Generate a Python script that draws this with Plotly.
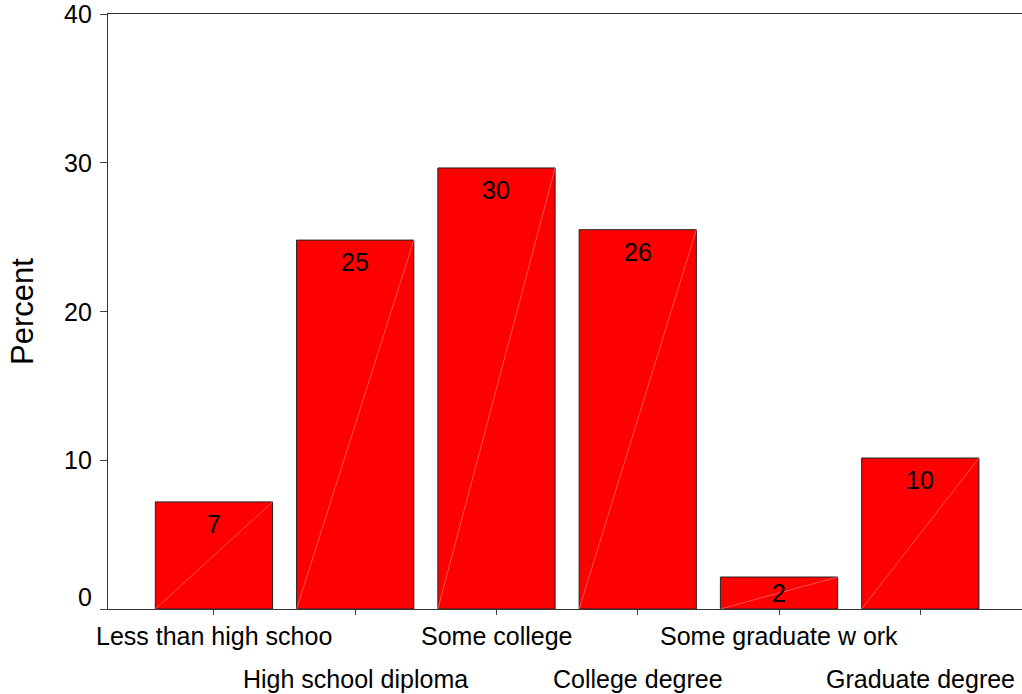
import plotly.graph_objects as go

categories = ["Less than high schoo", "High school diploma", "Some college",
              "College degree", "Some graduate w ork", "Graduate degree"]
percent = [7.2, 24.8, 29.65, 25.5, 2.15, 10.15]
value_labels = ["7", "25", "30", "26", "2", "10"]
y_ticks = [0, 10, 20, 30, 40]
y_tick_labels = ["0", "10", "20", "30", "40"]

W, H = 1022, 694
L, R, T, B = 108, 0, 14, 85
FONT = "Liberation Sans, Arial, sans-serif"
BAR_W = 0.83
px_per_unit = (H - T - B) / 40.0

xs = list(range(len(categories)))

fig = go.Figure()
fig.add_trace(go.Bar(
    x=xs, y=percent, width=BAR_W,
    marker=dict(color="#ff0000", line=dict(color="#222222", width=1)),
    hoverinfo="skip",
))

shapes = []
annotations = []
for i, (v, lab) in enumerate(zip(percent, value_labels)):
    # faint diagonal line across each bar (from bottom-left to top-right)
    shapes.append(dict(type="line", xref="x", yref="y",
                       x0=i - BAR_W / 2, y0=0, x1=i + BAR_W / 2, y1=v,
                       line=dict(color="rgba(255,170,170,0.8)", width=0.6)))
    hpx = v * px_per_unit
    shift = min(22, hpx - 16)
    annotations.append(dict(x=i, y=v, xref="x", yref="y", text=lab,
                            showarrow=False, yanchor="middle", yshift=-shift,
                            font=dict(family=FONT, size=25, color="#000000")))

for i, c in enumerate(categories):
    annotations.append(dict(x=i, y=0, xref="x", yref="paper", text=c,
                            showarrow=False, yanchor="middle",
                            yshift=-27 if i % 2 == 0 else -70,
                            font=dict(family=FONT, size=25, color="#000000")))

for v, lab in zip(y_ticks, y_tick_labels):
    annotations.append(dict(x=0, y=v, xref="paper", yref="y", text=lab,
                            showarrow=False, xanchor="right", yanchor="middle",
                            xshift=-14, yshift=12 if v == 0 else 0,
                            font=dict(family=FONT, size=25, color="#000000")))

fig.update_layout(
    width=W, height=H,
    margin=dict(l=L, r=R, t=T, b=B, pad=0),
    paper_bgcolor="white", plot_bgcolor="white",
    showlegend=False,
    font=dict(family=FONT, size=25, color="#000000"),
    shapes=shapes,
    annotations=annotations,
    xaxis=dict(range=[-0.75, 5.72], tickvals=xs, showticklabels=False,
               ticks="outside", ticklen=5, tickcolor="#444444",
               showline=True, linecolor="#333333", linewidth=1,
               mirror=True, showgrid=False, zeroline=False),
    yaxis=dict(range=[0, 40], tickvals=y_ticks, showticklabels=False,
               ticks="outside", ticklen=7, tickcolor="#444444",
               showline=True, linecolor="#333333", linewidth=1,
               showgrid=False, zeroline=False,
               title=dict(text="Percent", standoff=57,
                          font=dict(family=FONT, size=31, color="#000000"))),
)

fig.write_html("out.html")
